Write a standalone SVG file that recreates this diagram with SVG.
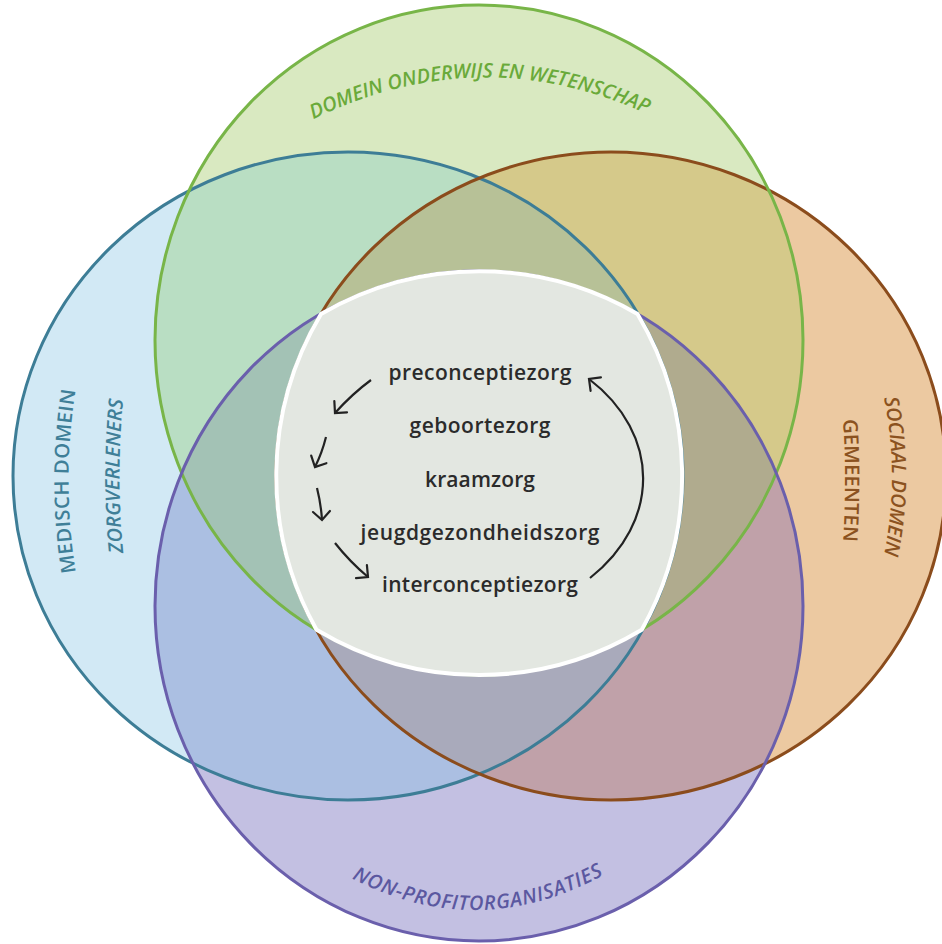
<svg xmlns="http://www.w3.org/2000/svg" xmlns:xlink="http://www.w3.org/1999/xlink" width="942" height="944" viewBox="0 0 942 944">
<style>
.lbl{font-family:"Open Sans","Liberation Sans",sans-serif;font-size:20px;font-weight:600}
.it{font-style:italic}
.ctr{font-family:"Open Sans","Liberation Sans",sans-serif;font-size:21px;font-weight:600;fill:#2b2b2b;text-anchor:middle}
.outline{fill:none;stroke-width:3}
.arrow{fill:none;stroke:#222222;stroke-width:2.2;marker-end:url(#ah)}
</style>
<defs>
<ellipse id="eG" cx="479" cy="340" rx="324" ry="335"/>
<ellipse id="eP" cx="479" cy="606" rx="324" ry="335"/>
<ellipse id="eB" cx="348" cy="476" rx="335" ry="324"/>
<ellipse id="eO" cx="611" cy="476" rx="335" ry="324"/>
<clipPath id="cG"><ellipse cx="479" cy="340" rx="324" ry="335"/></clipPath>
<clipPath id="cP"><ellipse cx="479" cy="606" rx="324" ry="335"/></clipPath>
<clipPath id="cB"><ellipse cx="348" cy="476" rx="335" ry="324"/></clipPath>
<clipPath id="cO"><ellipse cx="611" cy="476" rx="335" ry="324"/></clipPath>
<marker id="ah" viewBox="0 0 14 22" refX="11" refY="11" markerWidth="14" markerHeight="22" markerUnits="userSpaceOnUse" orient="auto" overflow="visible">
<path d="M2.5,2.5 L11,11 L2.5,19.5" fill="none" stroke="#222222" stroke-width="2.2" stroke-linecap="round"/>
</marker>
<path id="pTop" d="M296,128 Q480,30 664,122"/>
<path id="pBot" d="M340,872 Q478,950 616,868"/>
<path id="pL1" d="M78,585 Q59,480 78,377"/>
<path id="pL2" d="M125,570 Q114,476 125,382"/>
<path id="pR1" d="M881,385 Q903,476 881,568"/>
<path id="pR2" d="M842,405 Q848,480 842,556"/>
</defs>

<rect width="942" height="944" fill="#ffffff"/>

<g id="regions">
<use href="#eG" fill="#d9e9c1"/>
<use href="#eB" fill="#d2e9f5"/>
<use href="#eO" fill="#ecc9a1"/>
<use href="#eP" fill="#c3c0e2"/>
<g clip-path="url(#cG)"><use href="#eB" fill="#b9dec3"/><use href="#eO" fill="#d5c98a"/></g>
<g clip-path="url(#cP)"><use href="#eB" fill="#abbfe2"/><use href="#eO" fill="#c0a1a9"/></g>
<g clip-path="url(#cG)"><g clip-path="url(#cB)"><use href="#eO" fill="#b7c197"/></g></g>
<g clip-path="url(#cP)"><g clip-path="url(#cB)"><use href="#eO" fill="#a9aabb"/></g></g>
<g clip-path="url(#cG)"><g clip-path="url(#cP)"><use href="#eB" fill="#a3c2b5"/><use href="#eO" fill="#b0ab8e"/></g></g>
</g>

<g id="medisch-domein">
<use href="#eB" class="outline" stroke="#3d7d96"/>
<text class="lbl" fill="#3f7f98" letter-spacing="0.5" text-anchor="middle"><textPath href="#pL1" startOffset="50%">MEDISCH DOMEIN</textPath></text>
<text class="lbl it" fill="#3f7f98" letter-spacing="0.1" text-anchor="middle"><textPath href="#pL2" startOffset="50%">ZORGVERLENERS</textPath></text>
</g>

<g id="sociaal-domein">
<use href="#eO" class="outline" stroke="#8b4c1c"/>
<text class="lbl it" fill="#8b5220" letter-spacing="0" text-anchor="middle"><textPath href="#pR1" startOffset="50%">SOCIAAL DOMEIN</textPath></text>
<text class="lbl" fill="#8b5220" letter-spacing="0.2" text-anchor="middle"><textPath href="#pR2" startOffset="50%">GEMEENTEN</textPath></text>
</g>

<g id="domein-onderwijs">
<use href="#eG" class="outline" stroke="#78b548"/>
<text class="lbl it" fill="#6aaa3a" font-size="19.5" letter-spacing="0" text-anchor="middle"><textPath href="#pTop" startOffset="50%">DOMEIN ONDERWIJS EN WETENSCHAP</textPath></text>
</g>

<g id="non-profit">
<use href="#eP" class="outline" stroke="#6a5fac"/>
<text class="lbl it" fill="#5b58a0" letter-spacing="0.8" text-anchor="middle"><textPath href="#pBot" startOffset="50%">NON-PROFITORGANISATIES</textPath></text>
</g>

<g id="zorgketen">
<path d="M321,314 A324,335 0 0 1 637.5,314 A335,324 0 0 1 641.8,629.8 A324,335 0 0 1 316.5,629.8 A335,324 0 0 1 321,314 Z" fill="#e3e7e1" stroke="#ffffff" stroke-width="4"/>
<text class="ctr" x="480" y="380" textLength="183">preconceptiezorg</text>
<text class="ctr" x="480" y="433" textLength="141">geboortezorg</text>
<text class="ctr" x="480" y="487" textLength="110">kraamzorg</text>
<text class="ctr" x="480" y="540" textLength="239">jeugdgezondheidszorg</text>
<text class="ctr" x="480" y="592" textLength="196">interconceptiezorg</text>
</g>

<g id="connectors">
<path class="arrow" d="M371,380 Q352,394 335,413"/>
<path class="arrow" d="M326,437 Q322,453 315,467"/>
<path class="arrow" d="M317,488 Q321,504 322,520"/>
<path class="arrow" d="M335,543 Q350,562 368,577"/>
<path class="arrow" d="M590,578 C661,522 661,434 589,379"/>
</g>
</svg>
